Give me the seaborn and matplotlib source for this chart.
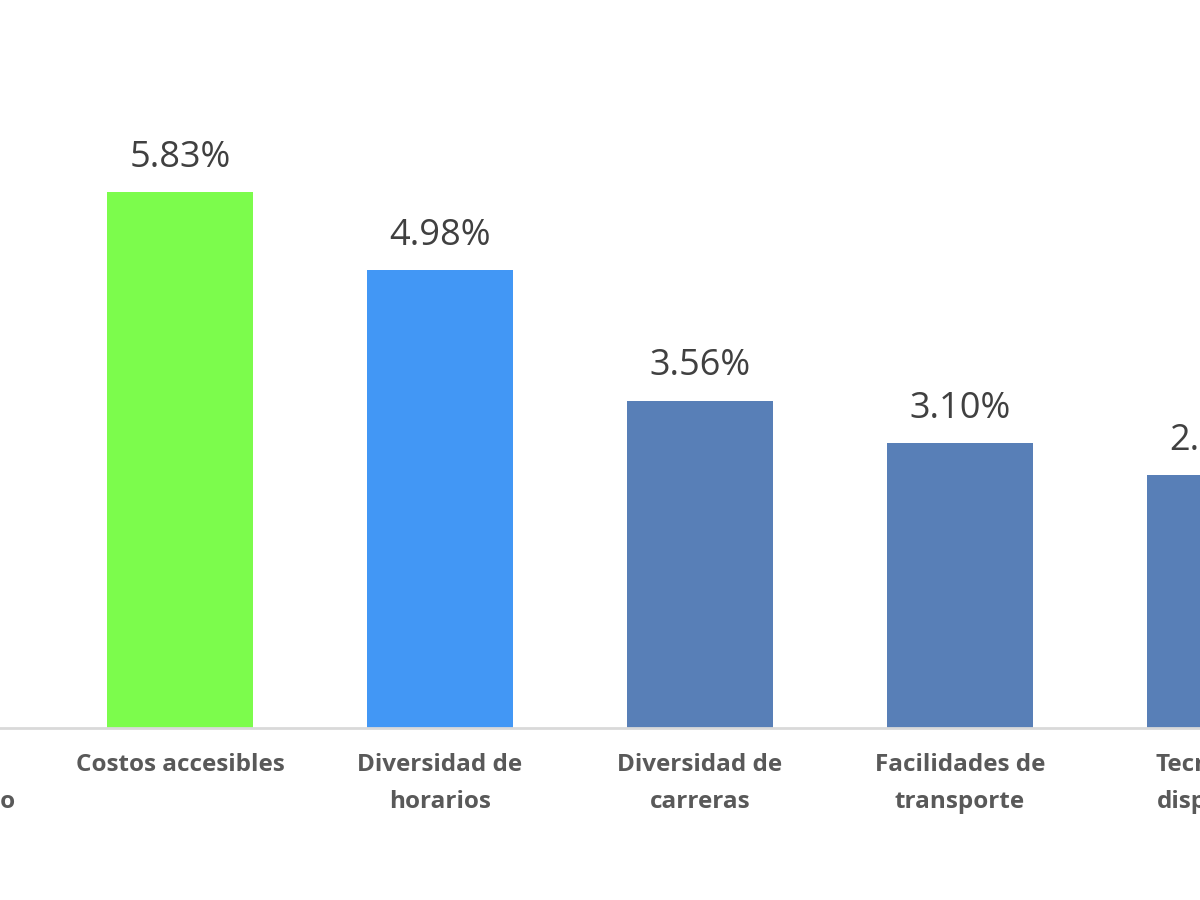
import matplotlib
matplotlib.use("Agg")
import matplotlib.pyplot as plt
import matplotlib.transforms as mtransforms
import seaborn as sns
import pandas as pd

categories = ["Prestigio y\nreconocimiento", "Costos accesibles", "Diversidad de\nhorarios",
              "Diversidad de\ncarreras", "Facilidades de\ntransporte", "Tecnología\ndisponible"]
values = [7.50, 5.83, 4.98, 3.56, 3.10, 2.75]
colors = ["#587FB7", "#7CFC4C", "#4297F5", "#587FB7", "#587FB7", "#587FB7"]

df = pd.DataFrame({"cat": categories, "val": values})
fig = plt.figure(figsize=(12, 9), dpi=100)
ax = fig.add_axes([0, 0.191, 1, 0.809])
sns.barplot(data=df, x="cat", y="val", hue="cat", palette=colors, legend=False,
            width=0.558, saturation=1, ax=ax)
ax.set_xlim(0.3077, 4.923)
ax.set_ylim(0, 7.92)
for i, v in enumerate(values):
    ax.text(i, v + 0.18, f"{v:.2f}%", ha="center", va="bottom", fontsize=26,
            color="#404040", family="Open Sans", clip_on=False)
trans = mtransforms.blended_transform_factory(ax.transData, fig.transFigure)
for i, c in enumerate(categories):
    ax.text(i, 1 - 753 / 900, c, transform=trans, ha="center", va="top",
            fontsize=17.5, fontweight="bold", color="#595959", family="Open Sans",
            linespacing=1.75, clip_on=False)
ax.set_xlabel(""); ax.set_ylabel("")
ax.set_yticks([]); ax.set_xticks([])
for s in ["top", "left", "right"]:
    ax.spines[s].set_visible(False)
ax.spines["bottom"].set_color("#D9D9D9"); ax.spines["bottom"].set_linewidth(2)
fig.savefig("out.png", dpi=100)
